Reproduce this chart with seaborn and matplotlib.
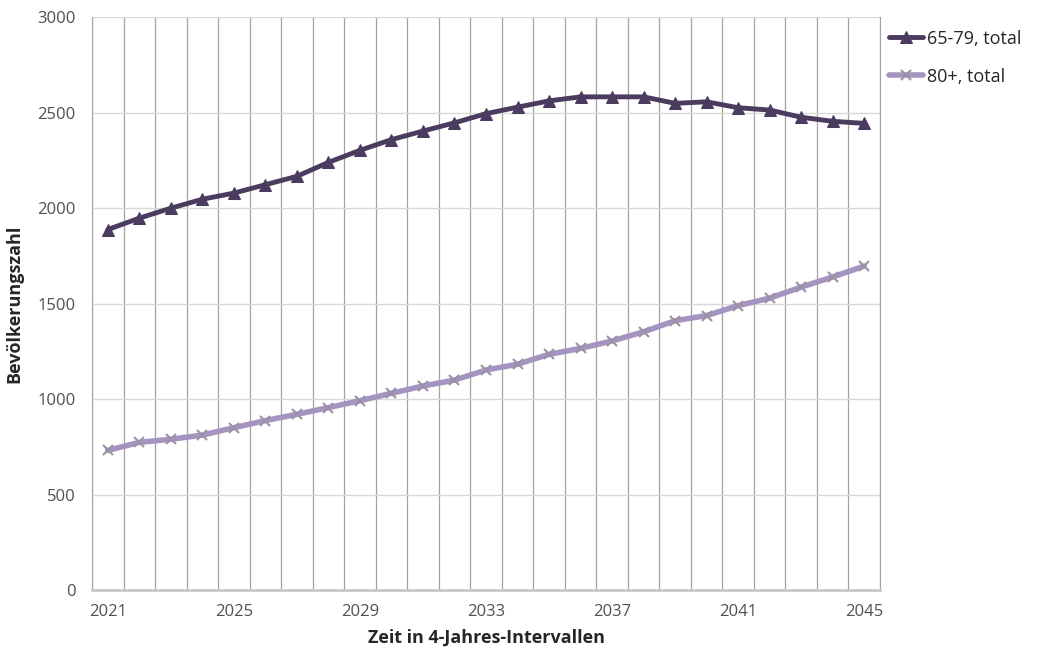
import matplotlib.pyplot as plt
import numpy as np
import pandas as pd
import seaborn as sns

years = list(range(2021, 2046))
pop_65_79 = [1887, 1947, 1999, 2046, 2078, 2122, 2166, 2239, 2302, 2358,
             2403, 2446, 2494, 2528, 2561, 2582, 2582, 2582, 2548, 2556,
             2525, 2513, 2475, 2454, 2443]
pop_80_plus = [731, 773, 789, 811, 850, 887, 920, 955, 991, 1030,
               1068, 1099, 1152, 1182, 1234, 1265, 1304, 1352, 1410, 1437,
               1489, 1528, 1586, 1639, 1696]
series_labels = ["65-79, total", "80+, total"]

df = pd.DataFrame({"Jahr": years, series_labels[0]: pop_65_79, series_labels[1]: pop_80_plus})
long_df = df.melt(id_vars="Jahr", var_name="Gruppe", value_name="Wert")

sns.set_style("white")
plt.rcParams["font.family"] = ["Open Sans", "DejaVu Sans"]

fig = plt.figure(figsize=(10.47, 6.47), dpi=100)
ax = fig.add_axes([0.0879, 0.0881, 0.7526, 0.8856])

dark = "#4b3b5f"
light = "#a594bf"

sns.lineplot(data=long_df[long_df["Gruppe"] == series_labels[0]], x="Jahr", y="Wert",
             color=dark, lw=3.5, marker="^", markersize=9, markeredgecolor=dark,
             label=series_labels[0], ax=ax, zorder=4)
sns.lineplot(data=long_df[long_df["Gruppe"] == series_labels[1]], x="Jahr", y="Wert",
             color=light, lw=4, marker="x", markersize=7, markeredgecolor="#9a92a6",
             markeredgewidth=1.5, label=series_labels[1], ax=ax, zorder=3)

ax.set_xlim(2020.5, 2045.5)
ax.set_ylim(0, 3000)
ax.set_yticks(np.arange(0, 3001, 500))
ax.set_xticks(np.arange(2021, 2046, 4))
ax.set_xticks(np.arange(2020.5, 2046, 1), minor=True)
ax.grid(axis="y", which="major", color="#d9d9d9", lw=1)
ax.grid(axis="x", which="minor", color="#a3a3a3", lw=0.9)
ax.grid(axis="x", which="major", visible=False)
ax.set_axisbelow(True)

ax.spines["top"].set_visible(False)
ax.spines["left"].set_color("#a3a3a3")
ax.spines["right"].set_color("#a3a3a3")
ax.spines["bottom"].set_color("#c8c8c8")
ax.spines["bottom"].set_linewidth(2)

ax.tick_params(axis="both", which="both", length=0, labelsize=12, labelcolor="#505050")
ax.tick_params(axis="x", pad=10)
ax.tick_params(axis="y", pad=12)
ax.set_xlabel("Zeit in 4-Jahres-Intervallen", fontsize=13, fontweight="bold", labelpad=6)
ax.set_ylabel("Bevölkerungszahl", fontsize=13, fontweight="bold", labelpad=10)

ax.legend(loc="upper left", bbox_to_anchor=(0.995, 1.0), frameon=False, fontsize=13,
          handlelength=1.9, handletextpad=0.2, labelspacing=1.1, borderaxespad=0.3)

fig.savefig("out.png", dpi=100)
